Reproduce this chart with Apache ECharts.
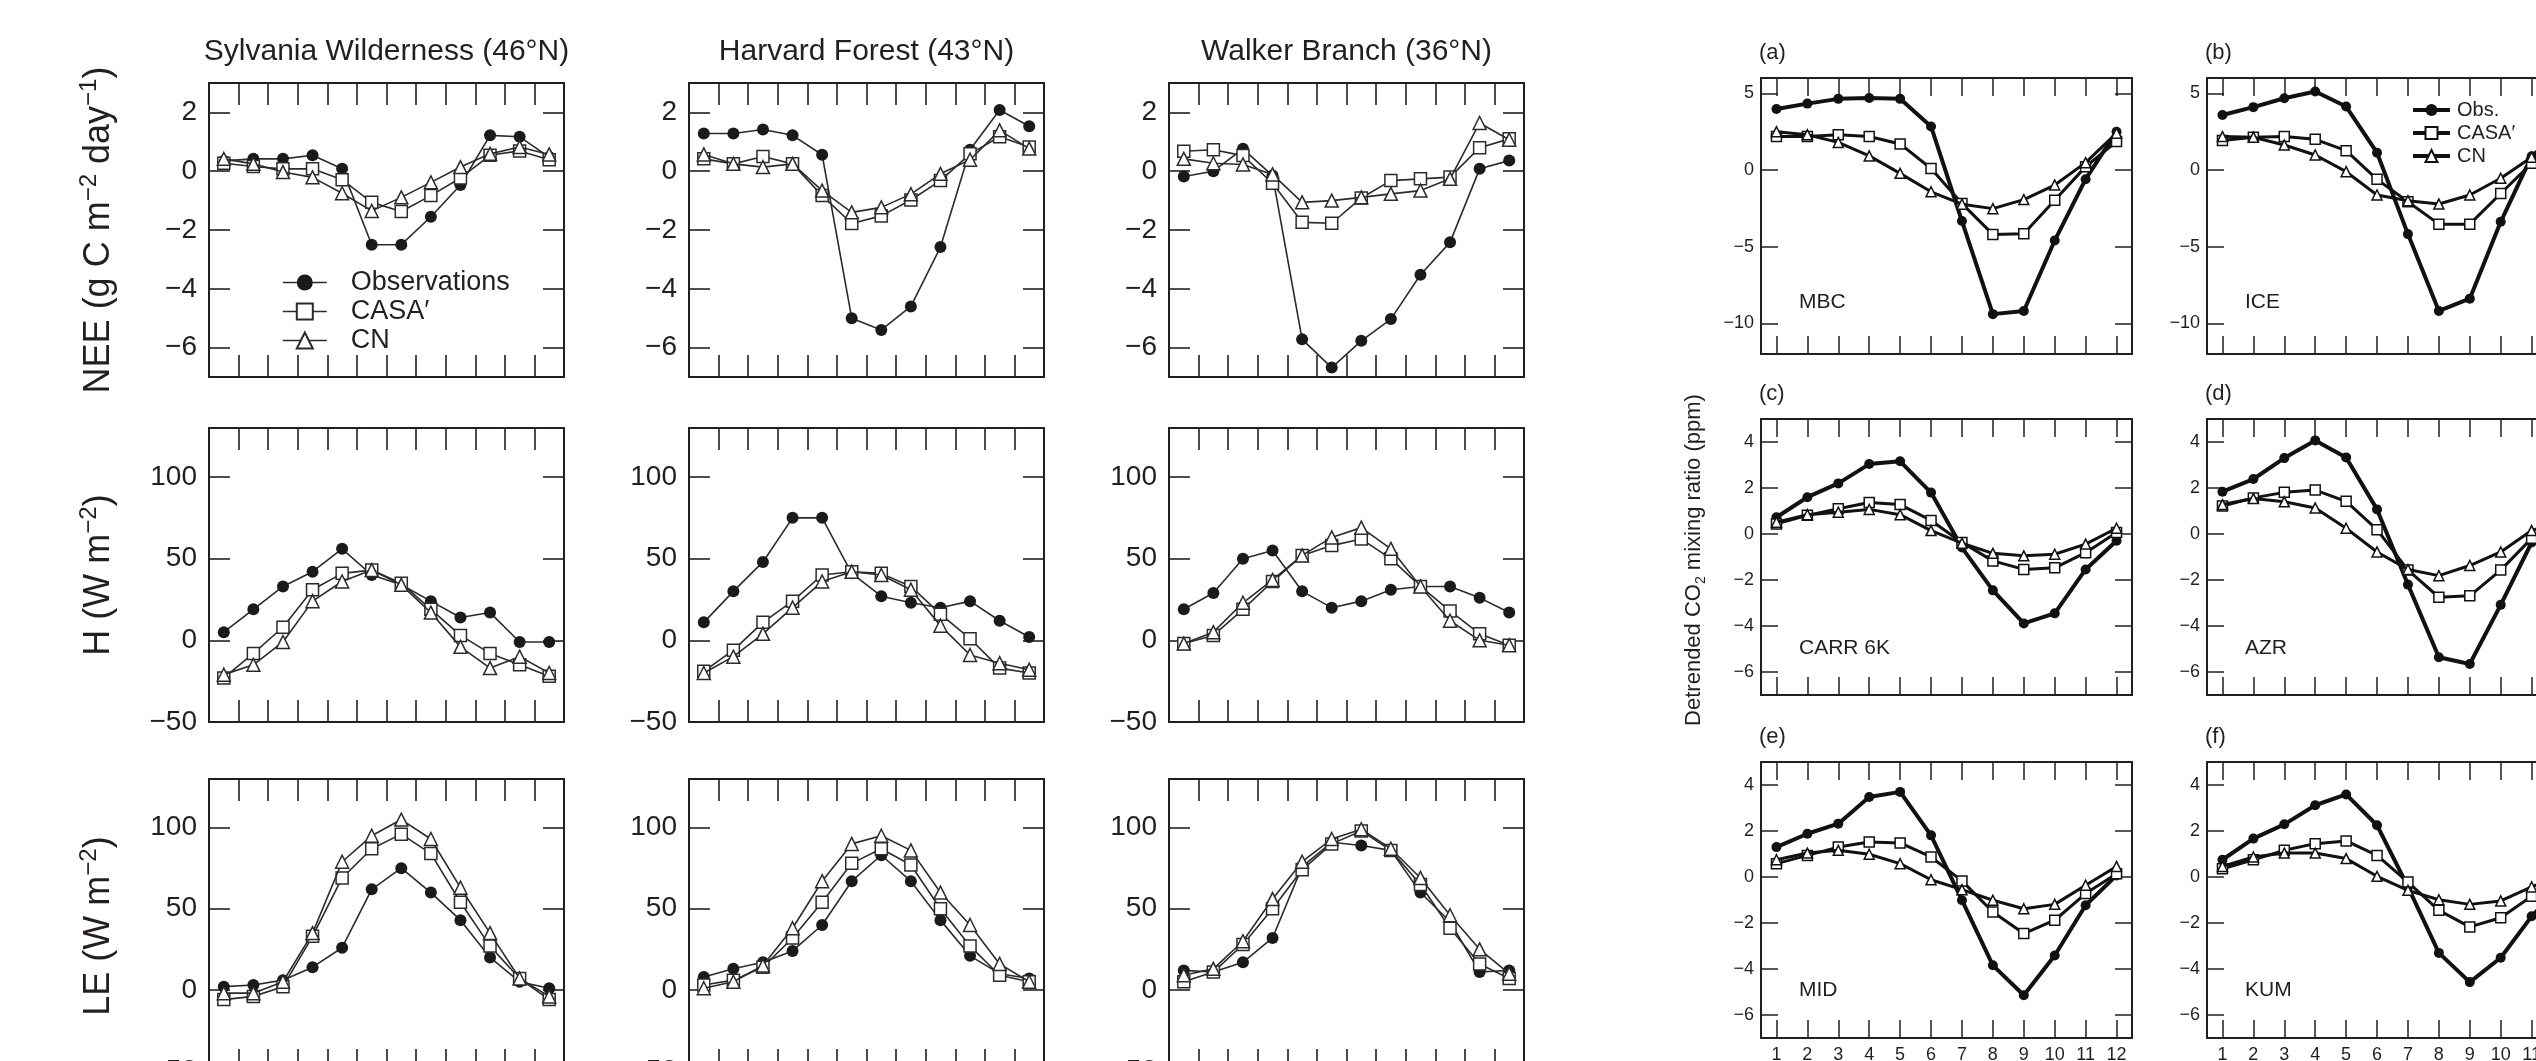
<!DOCTYPE html>
<html>
<head>
<meta charset="utf-8">
<script src="https://cdn.jsdelivr.net/npm/echarts@6/dist/echarts.min.js"></script>
<style>
html,body{margin:0;padding:0;background:#fff;overflow:hidden;}
#c{width:2600px;height:1100px;}
</style>
</head>
<body>
<div id="c"></div>
<script>
// ---------- DATA ----------
const months = ['1','2','3','4','5','6','7','8','9','10','11','12'];
const nameObs = 'Observations', nameCasa = 'CASA\u2032', nameCN = 'CN';
const nameObsR = 'Obs.', nameCasaR = 'CASA\u2032 model', nameCNR = 'CN model';
const siteTitles = ['Sylvania Wilderness (46\u00B0N)', 'Harvard Forest (43\u00B0N)', 'Walker Branch (36\u00B0N)'];
const panelLetters = ['(a)', '(b)', '(c)', '(d)', '(e)', '(f)'];
const stationNames = ['MBC', 'ICE', 'CARR 6K', 'AZR', 'MID', 'KUM'];
const ticksNEE = [-6, -4, -2, 0, 2];
const ticksFlux = [-50, 0, 50, 100];
const ticksCO2a = [-10, -5, 0, 5];
const ticksCO2b = [-6, -4, -2, 0, 2, 4];

// NEE (g C m-2 day-1)
const sylNEEObs  = [0.35, 0.42, 0.42, 0.54, 0.08, -2.5, -2.5, -1.55, -0.47, 1.22, 1.17, 0.48];
const sylNEECasa = [0.27, 0.16, 0.08, 0.08, -0.29, -1.06, -1.37, -0.83, -0.23, 0.54, 0.69, 0.39];
const sylNEECN   = [0.42, 0.25, -0.03, -0.21, -0.75, -1.35, -0.89, -0.38, 0.14, 0.59, 0.82, 0.57];
const harNEEObs  = [1.28, 1.28, 1.42, 1.22, 0.56, -5.0, -5.4, -4.6, -2.58, 0.73, 2.08, 1.53];
const harNEECasa = [0.42, 0.25, 0.5, 0.25, -0.83, -1.78, -1.52, -0.98, -0.32, 0.59, 1.17, 0.82];
const harNEECN   = [0.57, 0.25, 0.14, 0.25, -0.66, -1.4, -1.23, -0.78, -0.09, 0.39, 1.39, 0.77];
const walNEEObs  = [-0.18, 0.0, 0.76, -0.15, -5.72, -6.68, -5.77, -5.03, -3.52, -2.42, 0.08, 0.36];
const walNEECasa = [0.68, 0.73, 0.53, -0.41, -1.74, -1.77, -0.91, -0.32, -0.26, -0.2, 0.8, 1.1];
const walNEECN   = [0.42, 0.27, 0.23, -0.11, -1.06, -1.0, -0.89, -0.77, -0.66, -0.26, 1.64, 1.07];
// H (W m-2)
const sylHObs  = [5, 19, 33, 42, 56, 40, 34, 24, 14, 17, -1, -1];
const sylHCasa = [-23, -8, 8, 31, 41, 43, 35, 19, 3, -8, -15, -22];
const sylHCN   = [-21, -15, -1, 24, 36, 43, 34, 17, -4, -17, -10, -20];
const harHObs  = [11, 30, 48, 75, 75, 41, 27, 23, 20, 24, 12, 2];
const harHCasa = [-19, -6, 11, 24, 40, 42, 41, 33, 16, 1, -17, -20];
const harHCN   = [-20, -10, 4, 20, 36, 42, 40, 31, 9, -9, -14, -18];
const walHObs  = [19, 29, 50, 55, 30, 20, 24, 31, 33, 33, 26, 17];
const walHCasa = [-2, 3, 19, 36, 52, 58, 62, 50, 33, 18, 4, -3];
const walHCN   = [-2, 5, 23, 37, 52, 63, 69, 56, 33, 12, 0, -3];
// LE (W m-2)
const sylLEObs  = [2, 3, 6, 14, 26, 62, 75, 60, 43, 20, 5, 1];
const sylLECasa = [-6, -4, 2, 33, 69, 87, 96, 84, 54, 27, 7, -6];
const sylLECN   = [-2, -2, 5, 35, 79, 95, 105, 93, 63, 35, 7, -4];
const harLEObs  = [8, 13, 17, 24, 40, 67, 83, 67, 43, 21, 10, 7];
const harLECasa = [3, 6, 14, 32, 54, 78, 87, 77, 50, 27, 9, 5];
const harLECN   = [1, 5, 15, 38, 67, 90, 95, 86, 60, 40, 16, 5];
const walLEObs  = [12, 11, 17, 32, 76, 91, 89, 86, 60, 42, 11, 12];
const walLECasa = [5, 11, 28, 50, 74, 90, 98, 86, 65, 38, 16, 7];
const walLECN   = [9, 13, 30, 56, 79, 93, 99, 87, 69, 46, 25, 10];
// Detrended CO2 (ppm)
const mbcObs  = [3.98, 4.33, 4.64, 4.7, 4.64, 2.84, -3.33, -9.4, -9.2, -4.6, -0.6, 2.5];
const mbcCasa = [2.19, 2.19, 2.3, 2.19, 1.7, 0.1, -2.19, -4.2, -4.16, -1.97, 0.22, 1.86];
const mbcCN   = [2.5, 2.3, 1.8, 0.92, -0.22, -1.42, -2.23, -2.52, -1.93, -0.98, 0.48, 2.4];
const iceObs  = [3.59, 4.1, 4.68, 5.12, 4.14, 1.13, -4.18, -9.19, -8.39, -3.38, 0.9, 2.6];
const iceCasa = [1.92, 2.14, 2.18, 2.0, 1.26, -0.61, -2.07, -3.53, -3.53, -1.53, 0.44, 1.9];
const iceCN   = [2.18, 2.14, 1.63, 0.98, -0.11, -1.63, -2.0, -2.22, -1.63, -0.54, 0.83, 1.7];
const carrObs  = [0.73, 1.6, 2.2, 3.04, 3.16, 1.8, -0.59, -2.45, -3.89, -3.45, -1.54, -0.29];
const carrCasa = [0.44, 0.81, 1.1, 1.37, 1.28, 0.59, -0.37, -1.17, -1.54, -1.47, -0.81, 0.07];
const carrCN   = [0.51, 0.84, 0.95, 1.07, 0.84, 0.15, -0.4, -0.84, -0.95, -0.88, -0.44, 0.25];
const azrObs  = [1.84, 2.39, 3.3, 4.07, 3.33, 1.07, -2.2, -5.36, -5.65, -3.08, -0.37, 0.6];
const azrCasa = [1.22, 1.57, 1.81, 1.91, 1.42, 0.19, -1.57, -2.75, -2.69, -1.57, -0.19, 0.5];
const azrCN   = [1.28, 1.54, 1.4, 1.13, 0.25, -0.78, -1.54, -1.81, -1.37, -0.78, 0.15, 0.6];
const midObs  = [1.3, 1.88, 2.32, 3.48, 3.7, 1.81, -1.01, -3.84, -5.14, -3.41, -1.23, 0.07];
const midCasa = [0.58, 0.94, 1.3, 1.52, 1.48, 0.87, -0.17, -1.52, -2.46, -1.88, -0.72, 0.14];
const midCN   = [0.75, 1.04, 1.16, 0.99, 0.58, -0.12, -0.55, -1.01, -1.38, -1.19, -0.36, 0.46];
const kumObs  = [0.75, 1.67, 2.29, 3.12, 3.59, 2.25, -0.43, -3.3, -4.57, -3.51, -1.71, -0.3];
const kumCasa = [0.36, 0.75, 1.16, 1.45, 1.57, 0.94, -0.22, -1.45, -2.17, -1.77, -0.84, -0.1];
const kumCN   = [0.46, 0.87, 1.04, 1.04, 0.8, 0.03, -0.58, -0.99, -1.19, -1.04, -0.43, 0.1];

// ---------- LAYOUT / STYLE ----------
const FONT = 'Liberation Sans, Arial, Helvetica, sans-serif';
const INK = '#231f20';
const fmtMinus = v => (v < 0 ? '\u2212' + Math.abs(v) : String(v));

const grid = [], xAxis = [], yAxis = [], series = [], graphic = [];

function addPanel(box, st, yr, ticks, sets, showX) {
  const gi = grid.length;
  grid.push({ left: box.left, top: box.top, width: box.width, height: box.height, containLabel: false });
  const xi = xAxis.length, yi = yAxis.length;
  const axLine = { show: true, onZero: false, lineStyle: { color: INK, width: st.frameW } };
  const xBase = {
    type: 'category', gridIndex: gi, data: months, boundaryGap: true,
    axisLine: axLine,
    axisTick: { show: true, inside: true, length: st.tickLen, alignWithLabel: st.onPoint, interval: 0,
                lineStyle: { color: INK, width: st.tickW } },
    splitLine: { show: false }
  };
  xAxis.push(Object.assign({}, xBase, { position: 'bottom',
    axisLabel: { show: showX, interval: 0, fontSize: 18, color: INK, margin: 8, fontFamily: FONT } }));
  xAxis.push(Object.assign({}, xBase, { position: 'top', axisLabel: { show: false } }));
  const yBase = {
    type: 'value', gridIndex: gi, min: yr[0], max: yr[1],
    axisLine: axLine,
    axisTick: { show: true, inside: true, length: st.yTickLen, customValues: ticks,
                lineStyle: { color: INK, width: st.tickW } },
    splitLine: { show: false }
  };
  yAxis.push(Object.assign({}, yBase, { position: 'left',
    axisLabel: { show: true, customValues: ticks, formatter: fmtMinus, fontSize: st.labSize, color: INK,
                 margin: st.labMargin, fontFamily: FONT } }));
  yAxis.push(Object.assign({}, yBase, { position: 'right', axisLabel: { show: false } }));
  const kinds = [
    { symbol: 'circle', fill: st.obsFill, lw: st.obsLW, size: st.obsSize },
    { symbol: 'rect', fill: '#ffffff', lw: st.modLW, size: st.rectSize },
    { symbol: 'triangle', fill: '#ffffff', lw: st.modLW, size: st.triSize }
  ];
  sets.forEach((s, k) => {
    const kd = kinds[k];
    series.push({
      type: 'line', name: s.name, xAxisIndex: xi, yAxisIndex: yi, data: s.data,
      symbol: kd.symbol, symbolSize: kd.size, showSymbol: true, animation: false, silent: true,
      itemStyle: { color: kd.fill, borderColor: st.lineColor, borderWidth: k === 0 ? 0 : st.mBorder },
      lineStyle: { color: st.lineColor, width: kd.lw },
      z: 2 + k
    });
  });
}

const leftStyle = { frameW: 2, tickLen: 22, yTickLen: 21, tickW: 1.6, onPoint: false, labSize: 28, labMargin: 12,
  obsFill: '#1a1a1a', obsLW: 1.6, modLW: 1.6, obsSize: 12, rectSize: 12, triSize: 13, mBorder: 1.5, lineColor: '#2b2b2b' };
const rightStyle = { frameW: 2, tickLen: 18, yTickLen: 17, tickW: 1.5, onPoint: true, labSize: 18, labMargin: 7,
  obsFill: '#111111', obsLW: 4, modLW: 3, obsSize: 10, rectSize: 10, triSize: 10, mBorder: 1.5, lineColor: '#111111' };

const leftCols = [209, 689, 1169];
const leftRows = [83, 428, 779];
const leftHeights = [294, 294, 292];
const leftData = [
  [[sylNEEObs, sylNEECasa, sylNEECN], [harNEEObs, harNEECasa, harNEECN], [walNEEObs, walNEECasa, walNEECN]],
  [[sylHObs, sylHCasa, sylHCN], [harHObs, harHCasa, harHCN], [walHObs, walHCasa, walHCN]],
  [[sylLEObs, sylLECasa, sylLECN], [harLEObs, harLECasa, harLECN], [walLEObs, walLECasa, walLECN]]
];
const leftRanges = [[-7, 3], [-50, 130], [-50, 130]];
const leftTicks = [ticksNEE, ticksFlux, ticksFlux];
for (let r = 0; r < 3; r++) {
  for (let c = 0; c < 3; c++) {
    const d = leftData[r][c];
    addPanel({ left: leftCols[c], top: leftRows[r], width: 355, height: leftHeights[r] }, leftStyle, leftRanges[r], leftTicks[r],
      [{ name: nameObs, data: d[0] }, { name: nameCasa, data: d[1] }, { name: nameCN, data: d[2] }], false);
  }
}

const rightCols = [1761, 2207];
const rightRows = [78, 419, 762];
const rightData = [
  [[mbcObs, mbcCasa, mbcCN], [iceObs, iceCasa, iceCN]],
  [[carrObs, carrCasa, carrCN], [azrObs, azrCasa, azrCN]],
  [[midObs, midCasa, midCN], [kumObs, kumCasa, kumCN]]
];
const rightRanges = [[-12, 6], [-7, 5], [-7, 5]];
const rightTicks = [ticksCO2a, ticksCO2b, ticksCO2b];
for (let r = 0; r < 3; r++) {
  for (let c = 0; c < 2; c++) {
    const d = rightData[r][c];
    addPanel({ left: rightCols[c], top: rightRows[r], width: 371, height: 276 }, rightStyle, rightRanges[r], rightTicks[r],
      [{ name: nameObsR, data: d[0] }, { name: nameCasaR, data: d[1] }, { name: nameCNR, data: d[2] }], r === 2);
    const idx = r * 2 + c;
    graphic.push({ type: 'text', x: rightCols[c] - 2, y: rightRows[r] - 25,
      style: { text: panelLetters[idx], font: '22px ' + FONT, fill: INK, align: 'left', verticalAlign: 'middle' } });
    graphic.push({ type: 'text', x: rightCols[c] + 38, y: rightRows[r] + [224, 229, 228][r],
      style: { text: stationNames[idx], font: '21px ' + FONT, fill: INK, align: 'left', verticalAlign: 'middle' } });
  }
}

// site titles
siteTitles.forEach((t, c) => {
  graphic.push({ type: 'text', x: leftCols[c] + 177.5, y: 52,
    style: { text: t, font: '30px ' + FONT, fill: INK, align: 'center', verticalAlign: 'middle' } });
});

// y-axis names (rotated)
const richBig = { n: { fontSize: 36, fontFamily: FONT, fill: INK, color: INK, lineHeight: 44, verticalAlign: 'middle' },
                  s: { fontSize: 24, fontFamily: FONT, color: INK, lineHeight: 44, verticalAlign: 'top' } };
const yNames = [
  { y: 230, text: '{n|NEE (g C m}{s|\u22122}{n| day}{s|\u22121}{n|)}' },
  { y: 575, text: '{n|H (W m}{s|\u22122}{n|)}' },
  { y: 926, text: '{n|LE (W m}{s|\u22122}{n|)}' }
];
yNames.forEach(o => {
  graphic.push({ type: 'text', x: 99, y: o.y, rotation: Math.PI / 2,
    style: { text: o.text, rich: richBig, align: 'center', verticalAlign: 'middle', fill: INK } });
});
graphic.push({ type: 'text', x: 1694, y: 560, rotation: Math.PI / 2,
  style: { text: '{n|Detrended CO}{b|2}{n| mixing ratio (ppm)}',
    rich: { n: { fontSize: 22, fontFamily: FONT, color: INK, lineHeight: 28, verticalAlign: 'middle' },
            b: { fontSize: 14, fontFamily: FONT, color: INK, lineHeight: 28, verticalAlign: 'bottom' } },
    align: 'center', verticalAlign: 'middle', fill: INK } });

const option = {
  backgroundColor: '#ffffff',
  animation: false,
  grid, xAxis, yAxis, series, graphic,
  legend: [
    { data: [nameObs, nameCasa, nameCN], orient: 'vertical', left: 277, top: 264, itemWidth: 44, itemHeight: 20,
      itemGap: 2, selectedMode: false, lineStyle: { width: 1.6 },
      textStyle: { fontSize: 27, color: INK, fontFamily: FONT, padding: [0, 0, 0, 19], lineHeight: 24 } },
    { data: [nameObsR, nameCasaR, nameCNR], orient: 'vertical', left: 2406, top: 95, itemWidth: 37, itemHeight: 15,
      itemGap: 3, selectedMode: false, formatter: n => n.replace(' model', ''), lineStyle: { width: 4 },
      textStyle: { fontSize: 20, color: INK, fontFamily: FONT, padding: [0, 0, 0, 2], lineHeight: 20 } }
  ]
};

const chart = echarts.init(document.getElementById('c'), null, { renderer: 'canvas' });
chart.setOption(option);
</script>
</body>
</html>
